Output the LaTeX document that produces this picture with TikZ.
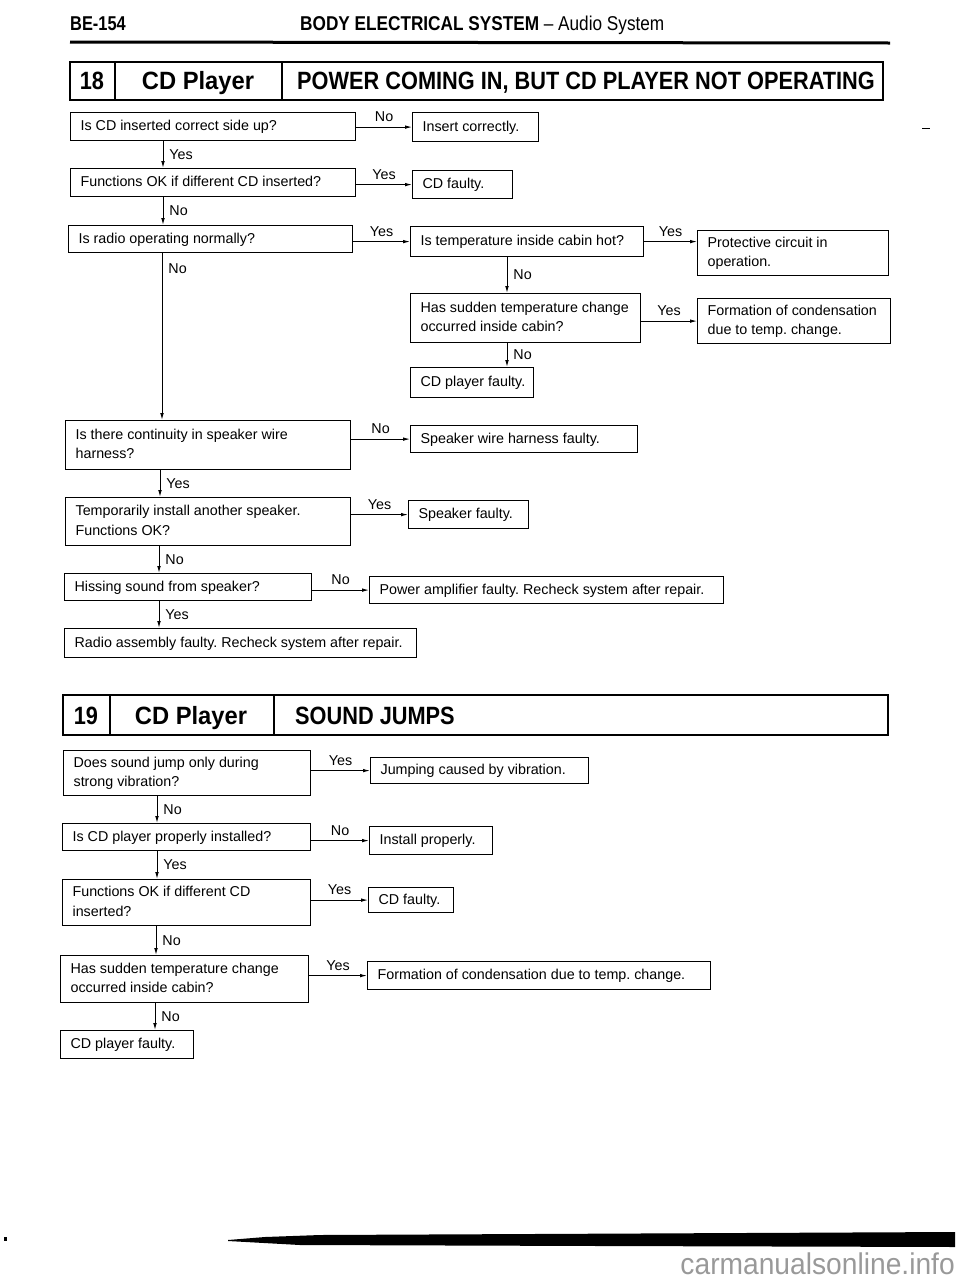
\documentclass[tikz,border=0pt]{standalone}
\usepackage{fontspec}
\setmainfont{Liberation Sans}
\usetikzlibrary{arrows.meta}
\frenchspacing
\newcommand\flowbox[6]{%
  \pgfmathsetmacro\tw{#4-20}%
  \node[box, minimum width=#4pt, minimum height=#5pt] (#1) at (#2,#3)
    {\makebox[\tw pt][l]{\begin{tabular}{@{}l@{}}#6\end{tabular}}};}
\begin{document}
\begin{tikzpicture}[x=1pt,y=-1pt,
  box/.style={draw, line width=1.2pt, rectangle, inner xsep=0pt, inner ysep=0pt,
    anchor=north west, font=\fontsize{14.3}{19.5}\selectfont},
  arr/.style={line width=0.9pt, -{Latex[length=7pt,width=3.6pt]}},
  lbl/.style={font=\fontsize{14.3}{16}\selectfont, inner sep=2pt},
  banner/.style={draw, line width=2pt},
  btext/.style={font=\fontsize{25}{28}\bfseries\selectfont, inner sep=0pt, anchor=base},
]
\useasboundingbox (0,0) rectangle (960,1280);

% ---------- header ----------
\node[anchor=base west, inner sep=0pt, font=\fontsize{20}{22}\bfseries\selectfont] (pg) at (70,30) {\scalebox{0.82}[1]{BE-154}};
\node[anchor=base west, inner sep=0pt, font=\fontsize{20}{22}\selectfont] (hd) at (300,30) {\scalebox{0.86}[1]{\textbf{BODY ELECTRICAL SYSTEM} -- Audio System}};
\draw[line width=3pt] (70,42) -- (890,43);
\draw[line width=0.8pt] (922,128) -- (930,128);

% ---------- banner 18 ----------
\draw[banner] (70,62) rectangle (883,100);
\draw[banner] (115,62) -- (115,100);
\draw[banner] (282,62) -- (282,100);
\node[btext] (n18) at (92,89) {\scalebox{0.87}[1]{18}};
\node[btext] (cd18) at (198,89) {\scalebox{0.95}[1]{CD Player}};
\node[btext, anchor=base west] (t18) at (297,89) {\scalebox{0.87}[1]{POWER COMING IN, BUT CD PLAYER NOT OPERATING}};

% ---------- flow 18 ----------
\flowbox{A}{70}{112}{285}{28}{Is CD inserted correct side up?}
\flowbox{A1}{412}{112}{126}{29}{Insert correctly.}
\flowbox{B}{70}{168}{285}{28}{Functions OK if different CD inserted?}
\flowbox{B1}{412}{170}{100}{28}{CD faulty.}
\flowbox{C}{68}{225}{284}{27}{Is radio operating normally?}
\flowbox{C1}{410}{226}{233}{30}{Is temperature inside cabin hot?}
\flowbox{C2}{697}{230}{191}{45}{Protective circuit in\\operation.}
\flowbox{T}{410}{293}{230}{49}{Has sudden temperature change\\occurred inside cabin?}
\flowbox{T1}{697}{298}{193}{45}{Formation of condensation\\due to temp. change.}
\flowbox{T2}{410}{367}{123}{30}{CD player faulty.}
\flowbox{D}{65}{420}{285}{49}{Is there continuity in speaker wire\\harness?}
\flowbox{D1}{410}{425}{227}{27}{Speaker wire harness faulty.}
\flowbox{E}{65}{497}{285}{48}{Temporarily install another speaker.\\Functions OK?}
\flowbox{E1}{408}{500}{120}{28}{Speaker faulty.}
\flowbox{F}{64}{573}{247}{27}{Hissing sound from speaker?}
\flowbox{F1}{369}{576}{354}{27}{Power amplifier faulty. Recheck system after repair.}
\flowbox{G}{64}{628}{352}{29}{Radio assembly faulty. Recheck system after repair.}

\coordinate (xa) at (163,0);
\coordinate (xc) at (162,0);
\coordinate (xd) at (160,0);
\coordinate (xe) at (159,0);
\coordinate (xt) at (507,0);

\draw[arr] (A1.west -| A.east) -- (A1.west) node[lbl, above, midway, yshift=3pt] {No};
\draw[arr] (B1.west -| B.east) -- (B1.west) node[lbl, above, midway, yshift=3pt] {Yes};
\draw[arr] (C1.west -| C.east) -- (C1.west) node[lbl, above, midway, yshift=3pt] {Yes};
\draw[arr] (C1.east) -- (C1.east -| C2.west) node[lbl, above, midway, yshift=3pt] {Yes};
\draw[arr] (T1.west -| T.east) -- (T1.west) node[lbl, above, midway, yshift=3pt] {Yes};
\draw[arr] (D1.west -| D.east) -- (D1.west) node[lbl, above, midway, yshift=3pt] {No};
\draw[arr] (E1.west -| E.east) -- (E1.west) node[lbl, above, midway, yshift=3pt] {Yes};
\draw[arr] (F1.west -| F.east) -- (F1.west) node[lbl, above, midway, yshift=3pt] {No};

\draw[arr] (A.south -| xa) -- (B.north -| xa) node[lbl, right, midway, xshift=4pt] {Yes};
\draw[arr] (B.south -| xa) -- (C.north -| xa) node[lbl, right, midway, xshift=4pt] {No};
\draw[arr] (C.south -| xc) -- (D.north -| xc) node[lbl, right, pos=0.09, xshift=4pt] {No};
\draw[arr] (C1.south -| xt) -- (T.north -| xt) node[lbl, right, midway, xshift=4pt] {No};
\draw[arr] (T.south -| xt) -- (T2.north -| xt) node[lbl, right, midway, xshift=4pt] {No};
\draw[arr] (D.south -| xd) -- (E.north -| xd) node[lbl, right, midway, xshift=4pt] {Yes};
\draw[arr] (E.south -| xe) -- (F.north -| xe) node[lbl, right, midway, xshift=4pt] {No};
\draw[arr] (F.south -| xe) -- (G.north -| xe) node[lbl, right, midway, xshift=4pt] {Yes};

% ---------- banner 19 ----------
\draw[banner] (63,695) rectangle (888,735);
\draw[banner] (110,695) -- (110,735);
\draw[banner] (274,695) -- (274,735);
\node[btext] (n19) at (86,724) {\scalebox{0.87}[1]{19}};
\node[btext] (cd19) at (191,724) {\scalebox{0.95}[1]{CD Player}};
\node[btext, anchor=base west] (t19) at (295,724) {\scalebox{0.87}[1]{SOUND JUMPS}};

% ---------- flow 19 ----------
\flowbox{H}{63}{750}{247}{45}{Does sound jump only during\\strong vibration?}
\flowbox{H1}{370}{757}{218}{26}{Jumping caused by vibration.}
\flowbox{I}{62}{823}{248}{27}{Is CD player properly installed?}
\flowbox{I1}{369}{826}{123}{28}{Install properly.}
\flowbox{J}{62}{879}{248}{46}{Functions OK if different CD\\inserted?}
\flowbox{J1}{368}{887}{85}{25}{CD faulty.}
\flowbox{K}{60}{955}{248}{47}{Has sudden temperature change\\occurred inside cabin?}
\flowbox{K1}{367}{961}{343}{28}{Formation of condensation due to temp. change.}
\flowbox{L}{60}{1030}{133}{28}{CD player faulty.}

\coordinate (xh) at (157,0);
\coordinate (xj) at (156,0);
\coordinate (xk) at (155,0);

\draw[arr] (H1.west -| H.east) -- (H1.west) node[lbl, above, midway, yshift=3pt] {Yes};
\draw[arr] (I1.west -| I.east) -- (I1.west) node[lbl, above, midway, yshift=3pt] {No};
\draw[arr] (J1.west -| J.east) -- (J1.west) node[lbl, above, midway, yshift=3pt] {Yes};
\draw[arr] (K1.west -| K.east) -- (K1.west) node[lbl, above, midway, yshift=3pt] {Yes};

\draw[arr] (H.south -| xh) -- (I.north -| xh) node[lbl, right, midway, xshift=4pt] {No};
\draw[arr] (I.south -| xh) -- (J.north -| xh) node[lbl, right, midway, xshift=4pt] {Yes};
\draw[arr] (J.south -| xj) -- (K.north -| xj) node[lbl, right, midway, xshift=4pt] {No};
\draw[arr] (K.south -| xk) -- (L.north -| xk) node[lbl, right, midway, xshift=4pt] {No};

% ---------- footer ----------
\fill (228,1240) -- (265,1237) -- (320,1235) -- (955,1232) -- (955,1247) -- (600,1246) -- (300,1245) -- (228,1241) -- cycle;
\fill (4,1237) rectangle (7,1241);
\node[anchor=base east, inner sep=0pt, text=black!40, font=\fontsize{30}{32}\selectfont] (wm) at (955,1274) {\scalebox{0.94}[1]{carmanualsonline.info}};
\end{tikzpicture}
\end{document}
